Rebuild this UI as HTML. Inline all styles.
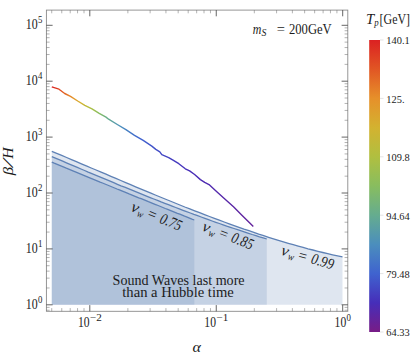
<!DOCTYPE html>
<html><head><meta charset="utf-8"><title>plot</title>
<style>
html,body{margin:0;padding:0;background:#fff;}
svg{display:block;font-family:"Liberation Serif",serif;}
.t{font-family:"Liberation Serif",serif;fill:#1c1c1c;}
.i{font-style:italic;}
</style></head><body>
<svg width="417" height="358" viewBox="0 0 417 358">
<rect width="417" height="358" fill="#fff"/>
<defs>
<linearGradient id="cb" x1="0" y1="1" x2="0" y2="0">
<stop offset="0.00" stop-color="#781c86"/>
<stop offset="0.10" stop-color="#462eb9"/>
<stop offset="0.20" stop-color="#3f63cf"/>
<stop offset="0.30" stop-color="#4b8ebd"/>
<stop offset="0.40" stop-color="#65ac8f"/>
<stop offset="0.50" stop-color="#88bd5f"/>
<stop offset="0.60" stop-color="#b0bf40"/>
<stop offset="0.70" stop-color="#d3b230"/>
<stop offset="0.80" stop-color="#e6902a"/>
<stop offset="0.90" stop-color="#e15624"/>
<stop offset="1.00" stop-color="#db2122"/>
</linearGradient>
<linearGradient id="rg" gradientUnits="userSpaceOnUse" x1="51.8" y1="0" x2="253.3" y2="0">
<stop offset="0.0000" stop-color="#db2122"/>
<stop offset="0.0506" stop-color="#e15624"/>
<stop offset="0.1002" stop-color="#e6902a"/>
<stop offset="0.1449" stop-color="#d3b230"/>
<stop offset="0.1896" stop-color="#b0bf40"/>
<stop offset="0.2342" stop-color="#88bd5f"/>
<stop offset="0.2789" stop-color="#65ac8f"/>
<stop offset="0.3434" stop-color="#4b8ebd"/>
<stop offset="0.4377" stop-color="#3f63cf"/>
<stop offset="0.5469" stop-color="#4348c4"/>
<stop offset="0.6759" stop-color="#462eb9"/>
<stop offset="1.0000" stop-color="#64239b"/>
</linearGradient></defs>
<path d="M51.8,151.3 L56.7,153.3 L61.7,155.4 L66.6,157.5 L71.5,159.6 L76.4,161.7 L81.4,163.8 L86.3,165.9 L91.2,168.0 L96.1,170.0 L101.1,172.1 L106.0,174.2 L110.9,176.3 L115.9,178.4 L120.8,180.5 L125.7,182.6 L130.6,184.7 L135.6,186.8 L140.5,188.8 L145.4,190.9 L150.3,192.9 L155.3,195.0 L160.2,197.0 L165.1,199.0 L170.1,201.0 L175.0,203.0 L179.9,205.0 L184.8,207.0 L189.8,208.9 L194.7,210.8 L199.6,212.7 L204.5,214.6 L209.5,216.5 L214.4,218.4 L219.3,220.2 L224.2,222.0 L229.2,223.8 L234.1,225.6 L239.0,227.3 L244.0,229.1 L248.9,230.7 L253.8,232.4 L258.7,234.1 L263.7,235.7 L268.6,237.3 L273.5,238.8 L278.4,240.3 L283.4,241.8 L288.3,243.3 L293.2,244.7 L298.2,246.1 L303.1,247.4 L308.0,248.8 L312.9,250.0 L317.9,251.3 L322.8,252.5 L327.7,253.7 L332.6,254.8 L337.6,255.9 L342.5,256.9 L342.5,304.8 L51.8,304.8 Z" fill="#5e81b5" fill-opacity="0.2" stroke="none"/>
<path d="M51.8,156.6 L55.4,158.1 L59.1,159.7 L62.7,161.2 L66.4,162.8 L70.0,164.3 L73.7,165.9 L77.3,167.4 L81.0,169.0 L84.6,170.5 L88.2,172.1 L91.9,173.6 L95.5,175.1 L99.2,176.7 L102.8,178.2 L106.5,179.7 L110.1,181.2 L113.7,182.7 L117.4,184.3 L121.0,185.8 L124.7,187.2 L128.3,188.7 L132.0,190.2 L135.6,191.7 L139.3,193.2 L142.9,194.6 L146.5,196.1 L150.2,197.6 L153.8,199.0 L157.5,200.4 L161.1,201.9 L164.8,203.3 L168.4,204.7 L172.1,206.1 L175.7,207.5 L179.3,208.9 L183.0,210.3 L186.6,211.7 L190.3,213.0 L193.9,214.4 L197.6,215.7 L201.2,217.0 L204.9,218.4 L208.5,219.7 L212.1,221.0 L215.8,222.3 L219.4,223.5 L223.1,224.8 L226.7,226.1 L230.4,227.3 L234.0,228.5 L237.6,229.7 L241.3,230.9 L244.9,232.1 L248.6,233.3 L252.2,234.5 L255.9,235.6 L259.5,236.8 L263.2,237.9 L266.8,239.0 L266.8,304.8 L51.8,304.8 Z" fill="#5e81b5" fill-opacity="0.2" stroke="none"/>
<path d="M51.8,162.1 L54.2,163.2 L56.6,164.2 L59.0,165.2 L61.5,166.2 L63.9,167.2 L66.3,168.2 L68.7,169.1 L71.1,170.1 L73.5,171.1 L76.0,172.1 L78.4,173.1 L80.8,174.1 L83.2,175.1 L85.6,176.1 L88.0,177.1 L90.4,178.1 L92.9,179.1 L95.3,180.1 L97.7,181.1 L100.1,182.1 L102.5,183.0 L104.9,184.0 L107.4,185.0 L109.8,186.0 L112.2,187.0 L114.6,188.0 L117.0,189.0 L119.4,189.9 L121.8,190.9 L124.3,191.9 L126.7,192.9 L129.1,193.9 L131.5,194.8 L133.9,195.8 L136.3,196.8 L138.7,197.8 L141.2,198.7 L143.6,199.7 L146.0,200.7 L148.4,201.7 L150.8,202.6 L153.2,203.6 L155.7,204.6 L158.1,205.5 L160.5,206.5 L162.9,207.5 L165.3,208.5 L167.7,209.4 L170.1,210.4 L172.6,211.4 L175.0,212.3 L177.4,213.3 L179.8,214.2 L182.2,215.2 L184.6,216.2 L187.1,217.1 L189.5,218.1 L191.9,219.1 L194.3,220.0 L194.3,304.8 L51.8,304.8 Z" fill="#5e81b5" fill-opacity="0.2" stroke="none"/>
<path d="M51.8,151.3 L56.7,153.3 L61.7,155.4 L66.6,157.5 L71.5,159.6 L76.4,161.7 L81.4,163.8 L86.3,165.9 L91.2,168.0 L96.1,170.0 L101.1,172.1 L106.0,174.2 L110.9,176.3 L115.9,178.4 L120.8,180.5 L125.7,182.6 L130.6,184.7 L135.6,186.8 L140.5,188.8 L145.4,190.9 L150.3,192.9 L155.3,195.0 L160.2,197.0 L165.1,199.0 L170.1,201.0 L175.0,203.0 L179.9,205.0 L184.8,207.0 L189.8,208.9 L194.7,210.8 L199.6,212.7 L204.5,214.6 L209.5,216.5 L214.4,218.4 L219.3,220.2 L224.2,222.0 L229.2,223.8 L234.1,225.6 L239.0,227.3 L244.0,229.1 L248.9,230.7 L253.8,232.4 L258.7,234.1 L263.7,235.7 L268.6,237.3 L273.5,238.8 L278.4,240.3 L283.4,241.8 L288.3,243.3 L293.2,244.7 L298.2,246.1 L303.1,247.4 L308.0,248.8 L312.9,250.0 L317.9,251.3 L322.8,252.5 L327.7,253.7 L332.6,254.8 L337.6,255.9 L342.5,256.9" fill="none" stroke="#5e81b5" stroke-width="1.3" stroke-linejoin="round"/>
<path d="M51.8,156.6 L55.4,158.1 L59.1,159.7 L62.7,161.2 L66.4,162.8 L70.0,164.3 L73.7,165.9 L77.3,167.4 L81.0,169.0 L84.6,170.5 L88.2,172.1 L91.9,173.6 L95.5,175.1 L99.2,176.7 L102.8,178.2 L106.5,179.7 L110.1,181.2 L113.7,182.7 L117.4,184.3 L121.0,185.8 L124.7,187.2 L128.3,188.7 L132.0,190.2 L135.6,191.7 L139.3,193.2 L142.9,194.6 L146.5,196.1 L150.2,197.6 L153.8,199.0 L157.5,200.4 L161.1,201.9 L164.8,203.3 L168.4,204.7 L172.1,206.1 L175.7,207.5 L179.3,208.9 L183.0,210.3 L186.6,211.7 L190.3,213.0 L193.9,214.4 L197.6,215.7 L201.2,217.0 L204.9,218.4 L208.5,219.7 L212.1,221.0 L215.8,222.3 L219.4,223.5 L223.1,224.8 L226.7,226.1 L230.4,227.3 L234.0,228.5 L237.6,229.7 L241.3,230.9 L244.9,232.1 L248.6,233.3 L252.2,234.5 L255.9,235.6 L259.5,236.8 L263.2,237.9 L266.8,239.0" fill="none" stroke="#5e81b5" stroke-width="1.3" stroke-linejoin="round"/>
<path d="M51.8,162.1 L54.2,163.2 L56.6,164.2 L59.0,165.2 L61.5,166.2 L63.9,167.2 L66.3,168.2 L68.7,169.1 L71.1,170.1 L73.5,171.1 L76.0,172.1 L78.4,173.1 L80.8,174.1 L83.2,175.1 L85.6,176.1 L88.0,177.1 L90.4,178.1 L92.9,179.1 L95.3,180.1 L97.7,181.1 L100.1,182.1 L102.5,183.0 L104.9,184.0 L107.4,185.0 L109.8,186.0 L112.2,187.0 L114.6,188.0 L117.0,189.0 L119.4,189.9 L121.8,190.9 L124.3,191.9 L126.7,192.9 L129.1,193.9 L131.5,194.8 L133.9,195.8 L136.3,196.8 L138.7,197.8 L141.2,198.7 L143.6,199.7 L146.0,200.7 L148.4,201.7 L150.8,202.6 L153.2,203.6 L155.7,204.6 L158.1,205.5 L160.5,206.5 L162.9,207.5 L165.3,208.5 L167.7,209.4 L170.1,210.4 L172.6,211.4 L175.0,212.3 L177.4,213.3 L179.8,214.2 L182.2,215.2 L184.6,216.2 L187.1,217.1 L189.5,218.1 L191.9,219.1 L194.3,220.0" fill="none" stroke="#5e81b5" stroke-width="1.3" stroke-linejoin="round"/>
<path d="M51.8,86.9 L59.0,89.2 L64.7,93.5 L70.5,96.4 L77.7,101.0 L84.8,105.3 L92.0,108.9 L99.2,113.3 L106.0,117.1 L108.6,119.2 L117.3,124.5 L125.9,129.6 L134.5,135.3 L143.2,140.4 L151.8,146.1 L155.8,149.4 L159.8,151.8 L161.8,154.7 L168.7,157.6 L173.0,160.1 L178.8,163.7 L185.3,168.8 L189.6,170.9 L194.6,174.5 L200.4,179.6 L204.7,182.4 L209.0,184.6 L216.8,191.8 L225.1,199.3 L233.5,206.8 L241.9,215.2 L250.3,223.6 L253.3,226.6" fill="none" stroke="url(#rg)" stroke-width="1.4" stroke-linejoin="round" stroke-linecap="butt"/>
<rect x="46.4" y="10.1" width="301.40000000000003" height="301.2" fill="none" stroke="#8a8a8a" stroke-width="0.9"/>
<path d="M51.73,311.3 v-3.2 M51.73,10.1 v3.2 M61.75,311.3 v-3.2 M61.75,10.1 v3.2 M70.21,311.3 v-3.2 M70.21,10.1 v3.2 M77.55,311.3 v-3.2 M77.55,10.1 v3.2 M84.01,311.3 v-3.2 M84.01,10.1 v3.2 M127.87,311.3 v-3.2 M127.87,10.1 v3.2 M150.13,311.3 v-3.2 M150.13,10.1 v3.2 M165.93,311.3 v-3.2 M165.93,10.1 v3.2 M178.18,311.3 v-3.2 M178.18,10.1 v3.2 M188.20,311.3 v-3.2 M188.20,10.1 v3.2 M196.66,311.3 v-3.2 M196.66,10.1 v3.2 M204.00,311.3 v-3.2 M204.00,10.1 v3.2 M210.46,311.3 v-3.2 M210.46,10.1 v3.2 M254.32,311.3 v-3.2 M254.32,10.1 v3.2 M276.58,311.3 v-3.2 M276.58,10.1 v3.2 M292.38,311.3 v-3.2 M292.38,10.1 v3.2 M304.63,311.3 v-3.2 M304.63,10.1 v3.2 M314.65,311.3 v-3.2 M314.65,10.1 v3.2 M323.11,311.3 v-3.2 M323.11,10.1 v3.2 M330.45,311.3 v-3.2 M330.45,10.1 v3.2 M336.91,311.3 v-3.2 M336.91,10.1 v3.2 M46.4,310.22 h3.2 M347.8,310.22 h-3.2 M46.4,307.36 h3.2 M347.8,307.36 h-3.2 M46.4,287.97 h3.2 M347.8,287.97 h-3.2 M46.4,278.13 h3.2 M347.8,278.13 h-3.2 M46.4,271.14 h3.2 M347.8,271.14 h-3.2 M46.4,265.73 h3.2 M347.8,265.73 h-3.2 M46.4,261.30 h3.2 M347.8,261.30 h-3.2 M46.4,257.56 h3.2 M347.8,257.56 h-3.2 M46.4,254.32 h3.2 M347.8,254.32 h-3.2 M46.4,251.46 h3.2 M347.8,251.46 h-3.2 M46.4,232.07 h3.2 M347.8,232.07 h-3.2 M46.4,222.23 h3.2 M347.8,222.23 h-3.2 M46.4,215.24 h3.2 M347.8,215.24 h-3.2 M46.4,209.83 h3.2 M347.8,209.83 h-3.2 M46.4,205.40 h3.2 M347.8,205.40 h-3.2 M46.4,201.66 h3.2 M347.8,201.66 h-3.2 M46.4,198.42 h3.2 M347.8,198.42 h-3.2 M46.4,195.56 h3.2 M347.8,195.56 h-3.2 M46.4,176.17 h3.2 M347.8,176.17 h-3.2 M46.4,166.33 h3.2 M347.8,166.33 h-3.2 M46.4,159.34 h3.2 M347.8,159.34 h-3.2 M46.4,153.93 h3.2 M347.8,153.93 h-3.2 M46.4,149.50 h3.2 M347.8,149.50 h-3.2 M46.4,145.76 h3.2 M347.8,145.76 h-3.2 M46.4,142.52 h3.2 M347.8,142.52 h-3.2 M46.4,139.66 h3.2 M347.8,139.66 h-3.2 M46.4,120.27 h3.2 M347.8,120.27 h-3.2 M46.4,110.43 h3.2 M347.8,110.43 h-3.2 M46.4,103.44 h3.2 M347.8,103.44 h-3.2 M46.4,98.03 h3.2 M347.8,98.03 h-3.2 M46.4,93.60 h3.2 M347.8,93.60 h-3.2 M46.4,89.86 h3.2 M347.8,89.86 h-3.2 M46.4,86.62 h3.2 M347.8,86.62 h-3.2 M46.4,83.76 h3.2 M347.8,83.76 h-3.2 M46.4,64.37 h3.2 M347.8,64.37 h-3.2 M46.4,54.53 h3.2 M347.8,54.53 h-3.2 M46.4,47.54 h3.2 M347.8,47.54 h-3.2 M46.4,42.13 h3.2 M347.8,42.13 h-3.2 M46.4,37.70 h3.2 M347.8,37.70 h-3.2 M46.4,33.96 h3.2 M347.8,33.96 h-3.2 M46.4,30.72 h3.2 M347.8,30.72 h-3.2 M46.4,27.86 h3.2 M347.8,27.86 h-3.2" stroke="#666" stroke-width="0.5" fill="none"/>
<path d="M89.80,311.3 v-6.2 M89.80,10.1 v6.2 M216.25,311.3 v-6.2 M216.25,10.1 v6.2 M342.70,311.3 v-6.2 M342.70,10.1 v6.2 M46.4,304.80 h6.2 M347.8,304.80 h-6.2 M46.4,248.90 h6.2 M347.8,248.90 h-6.2 M46.4,193.00 h6.2 M347.8,193.00 h-6.2 M46.4,137.10 h6.2 M347.8,137.10 h-6.2 M46.4,81.20 h6.2 M347.8,81.20 h-6.2 M46.4,25.30 h6.2 M347.8,25.30 h-6.2" stroke="#333" stroke-width="0.75" fill="none"/>
<text class="t" font-size="14" textLength="11.9" lengthAdjust="spacingAndGlyphs" x="25.80" y="308.70">10</text>
<text class="t" font-size="10" textLength="4.4" lengthAdjust="spacingAndGlyphs" x="38.10" y="302.80">0</text>
<text class="t" font-size="14" textLength="11.9" lengthAdjust="spacingAndGlyphs" x="25.80" y="252.80">10</text>
<text class="t" font-size="10" textLength="4.4" lengthAdjust="spacingAndGlyphs" x="38.10" y="246.90">1</text>
<text class="t" font-size="14" textLength="11.9" lengthAdjust="spacingAndGlyphs" x="25.80" y="196.90">10</text>
<text class="t" font-size="10" textLength="4.4" lengthAdjust="spacingAndGlyphs" x="38.10" y="191.00">2</text>
<text class="t" font-size="14" textLength="11.9" lengthAdjust="spacingAndGlyphs" x="25.80" y="141.00">10</text>
<text class="t" font-size="10" textLength="4.4" lengthAdjust="spacingAndGlyphs" x="38.10" y="135.10">3</text>
<text class="t" font-size="14" textLength="11.9" lengthAdjust="spacingAndGlyphs" x="25.80" y="85.10">10</text>
<text class="t" font-size="10" textLength="4.4" lengthAdjust="spacingAndGlyphs" x="38.10" y="79.20">4</text>
<text class="t" font-size="14" textLength="11.9" lengthAdjust="spacingAndGlyphs" x="25.80" y="29.20">10</text>
<text class="t" font-size="10" textLength="4.4" lengthAdjust="spacingAndGlyphs" x="38.10" y="23.30">5</text>
<text class="t" font-size="14" textLength="11.6" lengthAdjust="spacingAndGlyphs" x="77.90" y="327.30">10</text>
<text class="t" font-size="10" textLength="11.8" lengthAdjust="spacingAndGlyphs" x="90.00" y="321.00">−2</text>
<text class="t" font-size="14" textLength="11.6" lengthAdjust="spacingAndGlyphs" x="204.35" y="327.30">10</text>
<text class="t" font-size="10" textLength="11.8" lengthAdjust="spacingAndGlyphs" x="216.45" y="321.00">−1</text>
<text class="t" font-size="14" textLength="11.6" lengthAdjust="spacingAndGlyphs" x="334.60" y="327.30">10</text>
<text class="t" font-size="10" textLength="4.4" lengthAdjust="spacingAndGlyphs" x="346.60" y="321.00">0</text>
<text class="t i" font-size="15.5" textLength="8.4" lengthAdjust="spacingAndGlyphs" x="192.60" y="351.60">α</text>
<g transform="translate(12.6,175.2) rotate(-90)">
<text class="t i" font-size="14.5" textLength="8.4" lengthAdjust="spacingAndGlyphs" x="0.00" y="0.00">β</text>
<text class="t i" font-size="14.5" textLength="8.0" lengthAdjust="spacingAndGlyphs" x="8.00" y="0.00">/</text>
<text class="t i" font-size="14.5" textLength="11.4" lengthAdjust="spacingAndGlyphs" x="16.40" y="0.00">H</text>
</g>
<text class="t i" font-size="14" textLength="8.6" lengthAdjust="spacingAndGlyphs" x="252.70" y="33.80">m</text>
<text class="t i" font-size="10" textLength="4.9" lengthAdjust="spacingAndGlyphs" x="261.40" y="36.20">S</text>
<text class="t" font-size="14" textLength="8.2" lengthAdjust="spacingAndGlyphs" x="276.80" y="33.80">=</text>
<text class="t" font-size="14" textLength="42.7" lengthAdjust="spacingAndGlyphs" x="289.00" y="33.80">200GeV</text>
<text class="t" font-size="14.5" textLength="132" lengthAdjust="spacingAndGlyphs" x="112.60" y="284.60">Sound Waves last more</text>
<text class="t" font-size="14.5" textLength="111.5" lengthAdjust="spacingAndGlyphs" x="122.30" y="296.90">than a Hubble time</text>
<g transform="translate(131.5,211.1) rotate(22.5)">
<text class="t i" font-size="15.5" textLength="7.4" lengthAdjust="spacingAndGlyphs" x="-1.60" y="0.00">v</text>
<text class="t i" font-size="10.5" textLength="6.0" lengthAdjust="spacingAndGlyphs" x="6.30" y="2.60">w</text>
<text class="t i" font-size="15.5" textLength="10" lengthAdjust="spacingAndGlyphs" x="15.40" y="0.00">=</text>
<text class="t i" font-size="15.5" textLength="22.5" lengthAdjust="spacingAndGlyphs" x="29.50" y="0.00">0.75</text>
</g>
<g transform="translate(202.8,230.9) rotate(21.2)">
<text class="t i" font-size="15.5" textLength="7.4" lengthAdjust="spacingAndGlyphs" x="-1.60" y="0.00">v</text>
<text class="t i" font-size="10.5" textLength="6.0" lengthAdjust="spacingAndGlyphs" x="6.30" y="2.60">w</text>
<text class="t i" font-size="15.5" textLength="10" lengthAdjust="spacingAndGlyphs" x="15.40" y="0.00">=</text>
<text class="t i" font-size="15.5" textLength="22.5" lengthAdjust="spacingAndGlyphs" x="29.50" y="0.00">0.85</text>
</g>
<g transform="translate(281.8,254.9) rotate(16.1)">
<text class="t i" font-size="15.5" textLength="7.4" lengthAdjust="spacingAndGlyphs" x="-1.60" y="0.00">v</text>
<text class="t i" font-size="10.5" textLength="6.0" lengthAdjust="spacingAndGlyphs" x="6.30" y="2.60">w</text>
<text class="t i" font-size="15.5" textLength="10" lengthAdjust="spacingAndGlyphs" x="15.40" y="0.00">=</text>
<text class="t i" font-size="15.5" textLength="23.0" lengthAdjust="spacingAndGlyphs" x="29.50" y="0.00">0.99</text>
</g>
<rect x="369.2" y="40" width="10.8" height="292" fill="url(#cb)"/>
<text class="t i" font-size="15.5" textLength="8.2" lengthAdjust="spacingAndGlyphs" x="365.90" y="24.40">T</text>
<text class="t i" font-size="10.5" textLength="4.4" lengthAdjust="spacingAndGlyphs" x="374.20" y="25.60">p</text>
<text class="t" font-size="15.5" textLength="30.4" lengthAdjust="spacingAndGlyphs" x="379.60" y="24.40">[GeV]</text>
<text class="t" font-size="10.4" x="386.30" y="44.40">140.1</text>
<text class="t" font-size="10.4" x="386.30" y="102.80">125.</text>
<text class="t" font-size="10.4" x="386.30" y="161.20">109.8</text>
<text class="t" font-size="10.4" x="386.30" y="219.60">94.64</text>
<text class="t" font-size="10.4" x="386.30" y="278.00">79.48</text>
<text class="t" font-size="10.4" x="386.30" y="336.40">64.33</text>
<path d="M380,40.0 h3.5 M380,98.4 h3.5 M380,156.8 h3.5 M380,215.2 h3.5 M380,273.6 h3.5 M380,332.0 h3.5" stroke="#d0d0d0" stroke-width="0.6" fill="none"/>
</svg></body></html>
